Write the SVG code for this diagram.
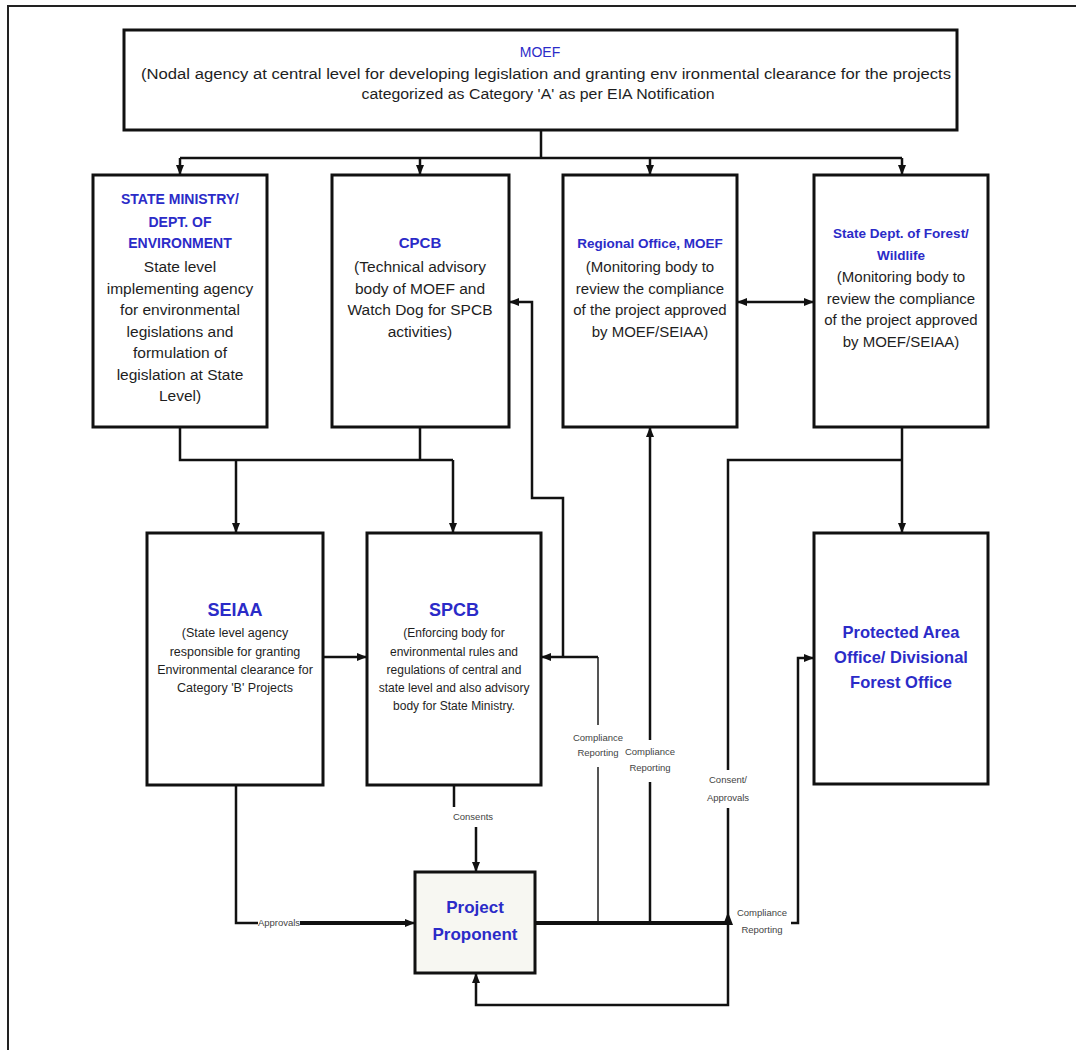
<svg xmlns="http://www.w3.org/2000/svg" width="1076" height="1050" viewBox="0 0 1076 1050">
<defs>
<style>
.box{fill:#fff;stroke:#111;stroke-width:3}
.h{font-family:"Liberation Sans",Arial,sans-serif;font-weight:bold;fill:#2b2bc8;text-anchor:middle}
.hr{font-family:"Liberation Sans",Arial,sans-serif;fill:#2b2bc8;text-anchor:middle}
.b{font-family:"Liberation Sans",Arial,sans-serif;fill:#1e1e1e;text-anchor:middle}
.s{font-family:"Liberation Sans",Arial,sans-serif;fill:#444;text-anchor:middle;font-size:9.5px}
.c{fill:none;stroke:#111;stroke-width:2.5}
.g{fill:none;stroke:#555;stroke-width:2}
.t{fill:none;stroke:#111;stroke-width:4}
</style>
<marker id="a" viewBox="0 0 10 8" refX="10" refY="4" markerWidth="10" markerHeight="8" markerUnits="userSpaceOnUse" orient="auto-start-reverse">
<path d="M0,0 L10,4 L0,8 z" fill="#111"/>
</marker>
</defs>
<rect width="1076" height="1050" fill="#fff"/>
<path d="M8,1050 V6 H1076" fill="none" stroke="#222" stroke-width="2"/>

<g id="connectors">
<path class="c" d="M541,130 V158 M180,158 H902"/>
<path class="c" d="M180,158 V175" marker-end="url(#a)"/>
<path class="c" d="M420,158 V175" marker-end="url(#a)"/>
<path class="c" d="M650,158 V175" marker-end="url(#a)"/>
<path class="c" d="M902,158 V175" marker-end="url(#a)"/>
<path class="c" d="M180,427 V460 H453 M420,427 V460"/>
<path class="c" d="M236,460 V533" marker-end="url(#a)"/>
<path class="c" d="M453,460 V533" marker-end="url(#a)"/>
<path class="c" d="M323,657 H367" marker-end="url(#a)"/>
<path class="g" d="M598,923 V767 M598,725 V657"/>
<path class="c" d="M598,657 H541" marker-end="url(#a)"/>
<path class="c" d="M563,657 V498 H532 V302 H509" marker-end="url(#a)"/>
<path class="c" d="M650,923 V782"/>
<path class="c" d="M650,740 V427" marker-end="url(#a)"/>
<path class="c" d="M737,302 H814" marker-start="url(#a)" marker-end="url(#a)"/>
<path class="c" d="M902,427 V533" marker-end="url(#a)"/>
<path class="c" d="M902,460 H728 V770"/>
<path class="c" d="M728,808 V1005 H476 V973" marker-end="url(#a)"/>
<path class="c" d="M236,785 V923 H258"/>
<path class="t" d="M300,923 H405"/>
<path class="c" d="M400,923 H415" marker-end="url(#a)"/>
<path class="c" d="M454,785 V807"/>
<path class="c" d="M476,827 V872" marker-end="url(#a)"/>
<path class="t" d="M535,923 H728"/>
<path d="M723,925 L728,912 L733,925 z" fill="#111"/>
<path class="c" d="M791,923 H798 V658 H814" marker-end="url(#a)"/>
<text class="s" x="279" y="926">Approvals</text>
<text class="s" x="473" y="820">Consents</text>
<text class="s" x="598" y="741">Compliance</text>
<text class="s" x="598" y="756">Reporting</text>
<text class="s" x="650" y="755">Compliance</text>
<text class="s" x="650" y="771">Reporting</text>
<text class="s" x="728" y="783">Consent/</text>
<text class="s" x="728" y="801">Approvals</text>
<text class="s" x="762" y="916">Compliance</text>
<text class="s" x="762" y="933">Reporting</text>
</g>

<g id="moef">
<rect class="box" x="124" y="30" width="833" height="100"/>
<text class="hr" x="540" y="57" font-size="14">MOEF</text>
<text class="b" x="546" y="79" font-size="14" textLength="810" lengthAdjust="spacingAndGlyphs">(Nodal agency at central level for developing legislation and granting env ironmental clearance for the projects</text>
<text class="b" x="538" y="99" font-size="14" textLength="353" lengthAdjust="spacingAndGlyphs">categorized as Category 'A' as per EIA Notification</text>
</g>

<g id="state-ministry">
<rect class="box" x="93" y="175" width="174" height="252"/>
<text class="h" x="180" y="204" font-size="14">STATE MINISTRY/</text>
<text class="h" x="180" y="227" font-size="14">DEPT. OF</text>
<text class="h" x="180" y="248" font-size="14">ENVIRONMENT</text>
<text class="b" x="180" y="272" font-size="15.5">State level</text>
<text class="b" x="180" y="293.5" font-size="15.5">implementing agency</text>
<text class="b" x="180" y="315" font-size="15.5">for environmental</text>
<text class="b" x="180" y="336.5" font-size="15.5">legislations and</text>
<text class="b" x="180" y="358" font-size="15.5">formulation of</text>
<text class="b" x="180" y="379.5" font-size="15.5">legislation at State</text>
<text class="b" x="180" y="401" font-size="15.5">Level)</text>
</g>

<g id="cpcb">
<rect class="box" x="332" y="175" width="177" height="252"/>
<text class="h" x="420" y="248" font-size="15">CPCB</text>
<text class="b" x="420" y="272" font-size="15.5">(Technical advisory</text>
<text class="b" x="420" y="293.5" font-size="15.5">body of MOEF and</text>
<text class="b" x="420" y="315" font-size="15.5">Watch Dog for SPCB</text>
<text class="b" x="420" y="336.5" font-size="15.5">activities)</text>
</g>

<g id="regional-office">
<rect class="box" x="563" y="175" width="174" height="252"/>
<text class="h" x="650" y="248" font-size="13.5">Regional Office, MOEF</text>
<text class="b" x="650" y="272" font-size="15">(Monitoring body to</text>
<text class="b" x="650" y="293.5" font-size="15">review the compliance</text>
<text class="b" x="650" y="315" font-size="15">of the project approved</text>
<text class="b" x="650" y="336.5" font-size="15">by MOEF/SEIAA)</text>
</g>

<g id="state-forest">
<rect class="box" x="814" y="175" width="174" height="252"/>
<text class="h" x="901" y="238" font-size="13.5">State Dept. of Forest/</text>
<text class="h" x="901" y="260" font-size="13.5">Wildlife</text>
<text class="b" x="901" y="282" font-size="15">(Monitoring body to</text>
<text class="b" x="901" y="303.5" font-size="15">review the compliance</text>
<text class="b" x="901" y="325" font-size="15">of the project approved</text>
<text class="b" x="901" y="346.5" font-size="15">by MOEF/SEIAA)</text>
</g>

<g id="seiaa">
<rect class="box" x="147" y="533" width="176" height="252"/>
<text class="h" x="235" y="616" font-size="18">SEIAA</text>
<text class="b" x="235" y="637" font-size="12.5">(State level agency</text>
<text class="b" x="235" y="656" font-size="12.5">responsible for granting</text>
<text class="b" x="235" y="674" font-size="12.5">Environmental clearance for</text>
<text class="b" x="235" y="692" font-size="12.5">Category 'B' Projects</text>
</g>

<g id="spcb">
<rect class="box" x="367" y="533" width="174" height="252"/>
<text class="h" x="454" y="616" font-size="18">SPCB</text>
<text class="b" x="454" y="637" font-size="12">(Enforcing body for</text>
<text class="b" x="454" y="656" font-size="12">environmental rules and</text>
<text class="b" x="454" y="674" font-size="12">regulations of central and</text>
<text class="b" x="454" y="692" font-size="12">state level and also advisory</text>
<text class="b" x="454" y="710" font-size="12">body for State Ministry.</text>
</g>

<g id="protected-area">
<rect class="box" x="814" y="533" width="174" height="251"/>
<text class="h" x="901" y="638" font-size="16.5">Protected Area</text>
<text class="h" x="901" y="663" font-size="16.5">Office/ Divisional</text>
<text class="h" x="901" y="688" font-size="16.5">Forest Office</text>
</g>

<g id="project-proponent">
<rect class="box" x="415" y="872" width="120" height="101" style="fill:#f7f7f2"/>
<text class="h" x="475" y="913" font-size="17">Project</text>
<text class="h" x="475" y="940" font-size="17">Proponent</text>
</g>
</svg>
